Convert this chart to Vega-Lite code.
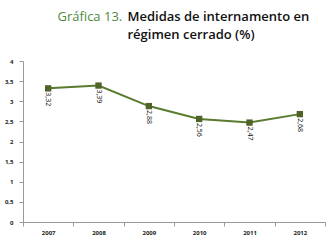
{
  "$schema": "https://vega.github.io/schema/vega-lite/v6.json",
  "width": 302,
  "height": 161,
  "autosize": {"type": "none"},
  "padding": {"left": 23, "top": 61, "right": 5, "bottom": 18},
  "background": "white",
  "config": {"view": {"stroke": null}},
  "data": {
    "values": [
      {"year": "2007", "value": 3.32, "label": "3,32"},
      {"year": "2008", "value": 3.39, "label": "3,39"},
      {"year": "2009", "value": 2.88, "label": "2,88"},
      {"year": "2010", "value": 2.56, "label": "2,56"},
      {"year": "2011", "value": 2.47, "label": "2,47"},
      {"year": "2012", "value": 2.68, "label": "2,68"}
    ]
  },
  "encoding": {
    "x": {
      "field": "year",
      "type": "ordinal",
      "scale": {"paddingInner": 0, "paddingOuter": 0},
      "axis": {
        "title": "Gráfica 13.",
        "titleX": 34,
        "titleY": -202,
        "titleAlign": "left",
        "titleBaseline": "alphabetic",
        "titleFont": "Open Sans",
        "titleFontSize": 13,
        "titleFontWeight": "normal",
        "titleColor": "#4E8A3E",
        "labelAngle": 0,
        "labelFont": "Open Sans",
        "labelFontSize": 6,
        "labelFontWeight": "bold",
        "labelColor": "#222222",
        "labelPadding": 3,
        "domainColor": "#999999",
        "tickColor": "#999999",
        "tickSize": 4,
        "tickBand": "extent"
      }
    },
    "y": {
      "field": "value",
      "type": "quantitative",
      "scale": {"domain": [0, 4], "nice": false},
      "axis": {
        "values": [0, 0.5, 1, 1.5, 2, 2.5, 3, 3.5, 4],
        "labelExpr": "replace(format(datum.value, '~g'), '.', ',')",
        "grid": false,
        "title": ["Medidas de internamento en", "régimen cerrado (%)"],
        "titleAngle": 0,
        "titleX": 104,
        "titleY": -41,
        "titleAlign": "left",
        "titleBaseline": "alphabetic",
        "titleLineHeight": 18,
        "titleFont": "Open Sans",
        "titleFontSize": 13,
        "titleFontWeight": 600,
        "titleColor": "#111111",
        "labelFont": "Open Sans",
        "labelFontSize": 6,
        "labelFontWeight": "bold",
        "labelColor": "#222222",
        "labelPadding": 6,
        "domainColor": "#999999",
        "tickColor": "#999999",
        "tickSize": 4
      }
    }
  },
  "layer": [
    {"mark": {"type": "line", "color": "#5A7A2E", "strokeWidth": 2}},
    {"mark": {"type": "point", "shape": "square", "filled": true, "opacity": 1, "size": 40, "color": "#4F6228"}},
    {
      "mark": {"type": "text", "angle": 90, "align": "left", "baseline": "middle", "dx": 4, "font": "Open Sans", "fontSize": 7, "color": "#111111"},
      "encoding": {"text": {"field": "label"}}
    }
  ]
}
